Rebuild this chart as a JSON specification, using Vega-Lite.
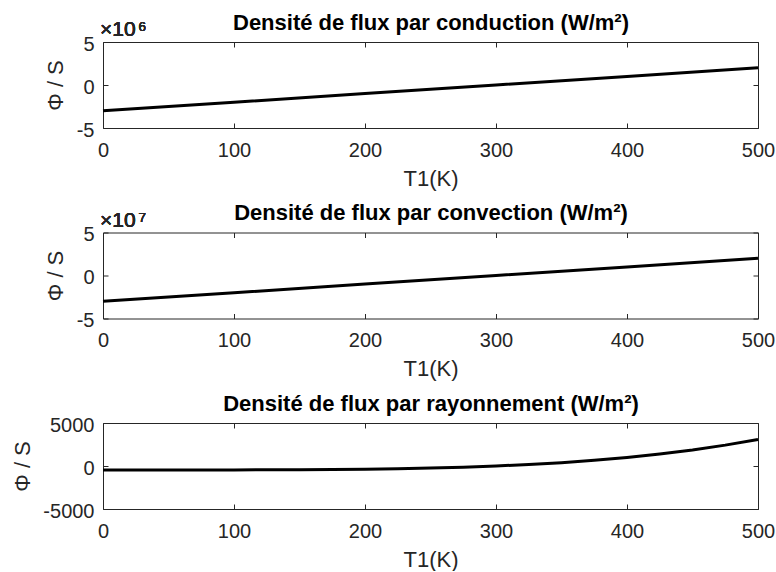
{
  "$schema": "https://vega.github.io/schema/vega-lite/v6.json",
  "padding": {"left": 10, "top": 10, "right": 10, "bottom": 0},
  "background": "white",
  "spacing": 10.5,
  "datasets": {
    "cond": [
      {"T": 0, "phi": -3000000}, {"T": 100, "phi": -2000000}, {"T": 200, "phi": -1000000},
      {"T": 300, "phi": 0}, {"T": 400, "phi": 1000000}, {"T": 500, "phi": 2000000}
    ],
    "conv": [
      {"T": 0, "phi": -30000000}, {"T": 100, "phi": -20000000}, {"T": 200, "phi": -10000000},
      {"T": 300, "phi": 0}, {"T": 400, "phi": 10000000}, {"T": 500, "phi": 20000000}
    ],
    "ray": [
      {"T": 0, "phi": -459.3}, {"T": 25, "phi": -459.2}, {"T": 50, "phi": -458.9}, {"T": 75, "phi": -457.5},
      {"T": 100, "phi": -453.6}, {"T": 125, "phi": -445.4}, {"T": 150, "phi": -430.6}, {"T": 175, "phi": -406.1},
      {"T": 200, "phi": -368.6}, {"T": 225, "phi": -314.0}, {"T": 250, "phi": -237.8}, {"T": 275, "phi": -135.0},
      {"T": 300, "phi": 0}, {"T": 325, "phi": 173.3}, {"T": 350, "phi": 391.6}, {"T": 375, "phi": 661.9},
      {"T": 400, "phi": 992.2}, {"T": 425, "phi": 1390.6}, {"T": 450, "phi": 1865.8}, {"T": 475, "phi": 2427.1},
      {"T": 500, "phi": 3084.5}
    ]
  },
  "vconcat": [
    {
      "width": 655, "height": 86,
      "data": {"name": "cond"},
      "resolve": {"axis": {"x": "independent", "y": "independent"}},
      "layer": [
        {
          "mark": {"type": "line", "color": "black", "strokeWidth": 3},
          "encoding": {
            "x": {"field": "T", "type": "quantitative", "scale": {"domain": [0, 500], "nice": false},
                  "axis": {"orient": "bottom", "values": [0, 100, 200, 300, 400, 500], "title": "T1(K)"}},
            "y": {"field": "phi", "type": "quantitative", "scale": {"domain": [-5000000, 5000000], "nice": false},
                  "axis": {"orient": "left", "values": [-5000000, 0, 5000000], "title": "Φ / S", "labelExpr": "'' + (datum.value / 1000000)"}}
          }
        },
        {
          "mark": {"type": "line", "opacity": 0},
          "encoding": {
            "x": {"field": "T", "type": "quantitative", "axis": {"orient": "top", "values": [0, 100, 200, 300, 400, 500], "labels": false,
                  "title": "Densité de flux par conduction (W/m²)", "titleFontWeight": "bold", "titleFontSize": 22, "titleColor": "black", "titlePadding": 7.5}},
            "y": {"field": "phi", "type": "quantitative", "axis": {"orient": "right", "values": [-5000000, 0, 5000000], "labels": false, "title": null}}
          }
        },
        {
          "mark": {"type": "text", "text": "×10", "align": "left", "baseline": "alphabetic", "dx": -3, "dy": -6, "fontSize": 21, "color": "#262626", "font": "Liberation Sans", "fontWeight": "normal"},
          "encoding": {"x": {"datum": 0, "type": "quantitative", "axis": null}, "y": {"datum": 5000000, "type": "quantitative", "axis": null}}
        },
        {
          "mark": {"type": "text", "text": "6", "align": "left", "baseline": "alphabetic", "dx": 35.5, "dy": -11, "fontSize": 13.5, "color": "#262626", "font": "Liberation Sans", "fontWeight": "normal"},
          "encoding": {"x": {"datum": 0, "type": "quantitative", "axis": null}, "y": {"datum": 5000000, "type": "quantitative", "axis": null}}
        }
      ]
    },
    {
      "width": 655, "height": 86,
      "data": {"name": "conv"},
      "resolve": {"axis": {"x": "independent", "y": "independent"}},
      "layer": [
        {
          "mark": {"type": "line", "color": "black", "strokeWidth": 3},
          "encoding": {
            "x": {"field": "T", "type": "quantitative", "scale": {"domain": [0, 500], "nice": false},
                  "axis": {"orient": "bottom", "values": [0, 100, 200, 300, 400, 500], "title": "T1(K)"}},
            "y": {"field": "phi", "type": "quantitative", "scale": {"domain": [-50000000, 50000000], "nice": false},
                  "axis": {"orient": "left", "values": [-50000000, 0, 50000000], "title": "Φ / S", "labelExpr": "'' + (datum.value / 10000000)"}}
          }
        },
        {
          "mark": {"type": "line", "opacity": 0},
          "encoding": {
            "x": {"field": "T", "type": "quantitative", "axis": {"orient": "top", "values": [0, 100, 200, 300, 400, 500], "labels": false,
                  "title": "Densité de flux par convection (W/m²)", "titleFontWeight": "bold", "titleFontSize": 22, "titleColor": "black", "titlePadding": 7.5}},
            "y": {"field": "phi", "type": "quantitative", "axis": {"orient": "right", "values": [-50000000, 0, 50000000], "labels": false, "title": null}}
          }
        },
        {
          "mark": {"type": "text", "text": "×10", "align": "left", "baseline": "alphabetic", "dx": -3, "dy": -6, "fontSize": 21, "color": "#262626", "font": "Liberation Sans", "fontWeight": "normal"},
          "encoding": {"x": {"datum": 0, "type": "quantitative", "axis": null}, "y": {"datum": 50000000, "type": "quantitative", "axis": null}}
        },
        {
          "mark": {"type": "text", "text": "7", "align": "left", "baseline": "alphabetic", "dx": 35.5, "dy": -11, "fontSize": 13.5, "color": "#262626", "font": "Liberation Sans", "fontWeight": "normal"},
          "encoding": {"x": {"datum": 0, "type": "quantitative", "axis": null}, "y": {"datum": 50000000, "type": "quantitative", "axis": null}}
        }
      ]
    },
    {
      "width": 655, "height": 86,
      "data": {"name": "ray"},
      "resolve": {"axis": {"x": "independent", "y": "independent"}},
      "layer": [
        {
          "mark": {"type": "line", "color": "black", "strokeWidth": 3},
          "encoding": {
            "x": {"field": "T", "type": "quantitative", "scale": {"domain": [0, 500], "nice": false},
                  "axis": {"orient": "bottom", "values": [0, 100, 200, 300, 400, 500], "title": "T1(K)"}},
            "y": {"field": "phi", "type": "quantitative", "scale": {"domain": [-5000, 5000], "nice": false},
                  "axis": {"orient": "left", "values": [-5000, 0, 5000], "title": "Φ / S", "labelExpr": "'' + datum.value"}}
          }
        },
        {
          "mark": {"type": "line", "opacity": 0},
          "encoding": {
            "x": {"field": "T", "type": "quantitative", "axis": {"orient": "top", "values": [0, 100, 200, 300, 400, 500], "labels": false,
                  "title": "Densité de flux par rayonnement (W/m²)", "titleFontWeight": "bold", "titleFontSize": 22, "titleColor": "black", "titlePadding": 7.5}},
            "y": {"field": "phi", "type": "quantitative", "axis": {"orient": "right", "values": [-5000, 0, 5000], "labels": false, "title": null}}
          }
        }
      ]
    }
  ],
  "config": {
    "font": "Liberation Sans",
    "view": {"stroke": "#262626", "strokeWidth": 1},
    "axis": {
      "domain": false,
      "grid": false,
      "tickSize": -5,
      "tickColor": "#262626",
      "tickWidth": 1,
      "labelFlush": false,
      "labelFontSize": 20,
      "labelColor": "#262626",
      "labelFont": "Liberation Sans",
      "titleFontSize": 22,
      "titleFontWeight": "normal",
      "titleColor": "#262626",
      "titleFont": "Liberation Sans"
    },
    "axisX": {"labelPadding": 17, "titlePadding": 8},
    "axisY": {"labelPadding": 14, "titlePadding": 8.5, "labelOffset": 2}
  }
}
